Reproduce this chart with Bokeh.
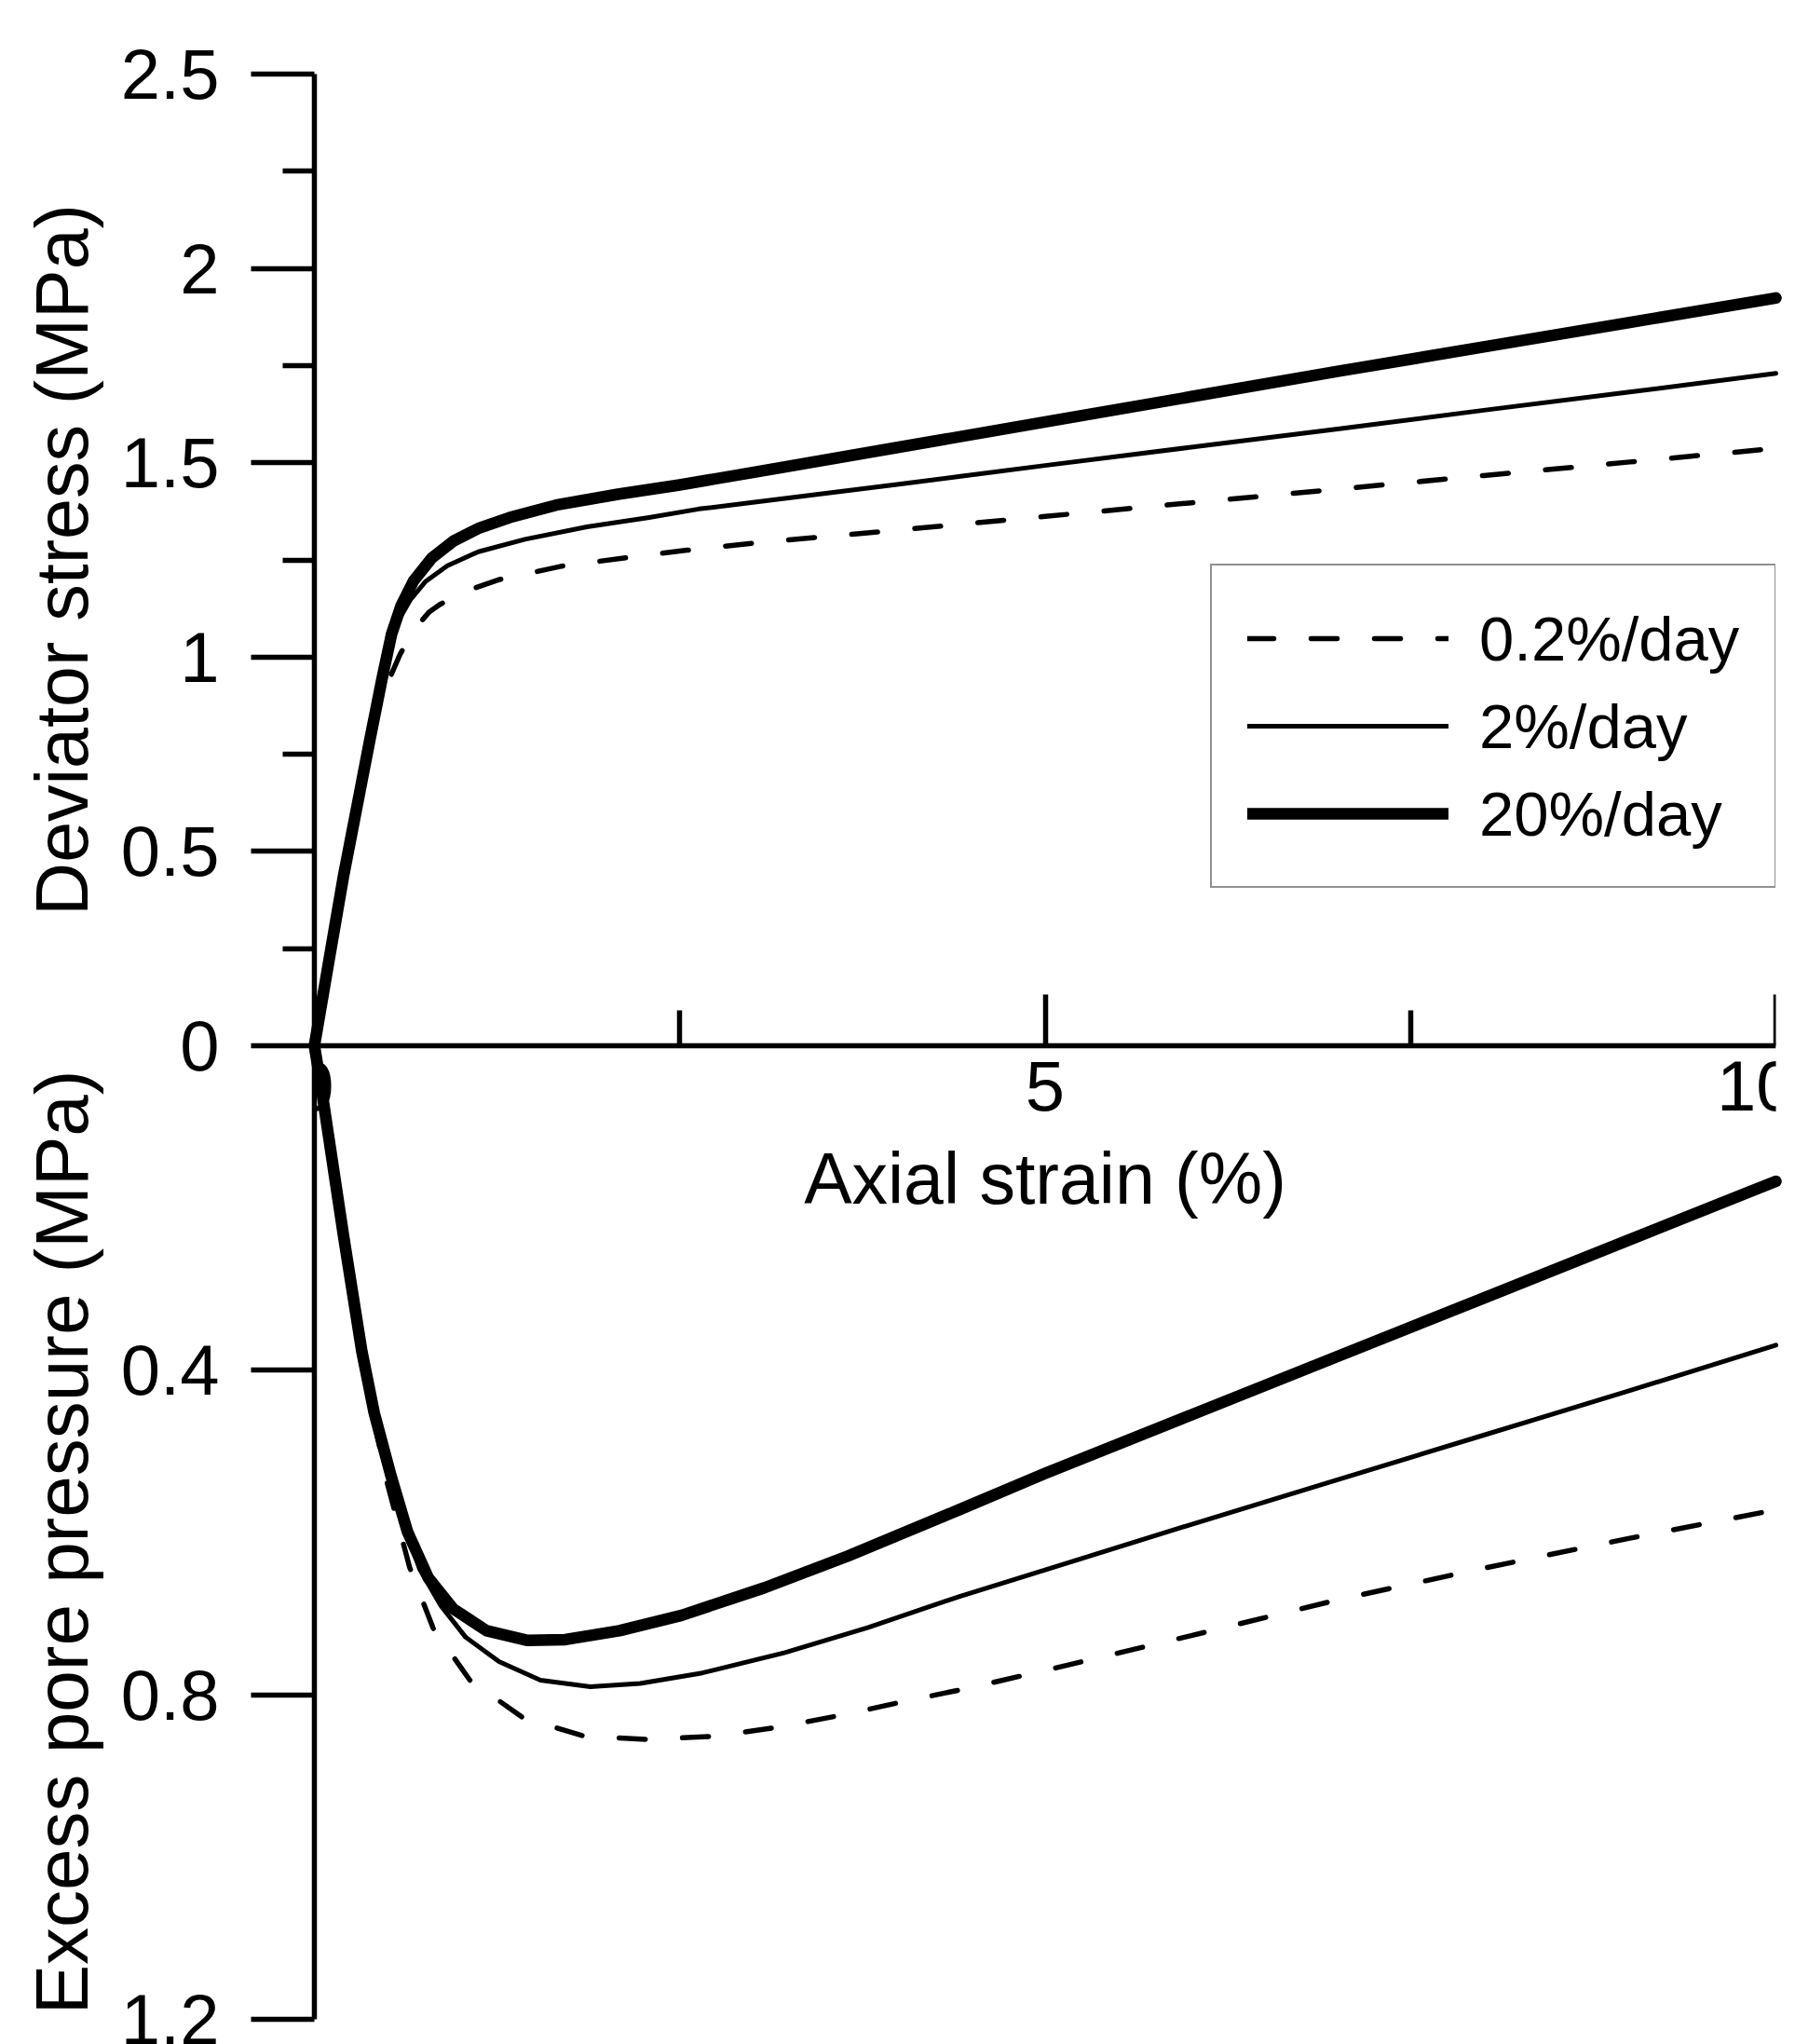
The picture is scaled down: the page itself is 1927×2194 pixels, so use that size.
from math import pi
from bokeh.plotting import figure
from bokeh.layouts import row
from bokeh.models import Range1d, FixedTicker, Legend, LegendItem
from bokeh.core.properties import value
from bokeh.embed import file_html
from bokeh.resources import INLINE

# ---------------- data ----------------
rate_labels = ["0.2%/day", "2%/day", "20%/day"]

# Deviator stress (MPa) vs axial strain (%)
q_strain_02 = [0, 0.1, 0.2, 0.3, 0.444, 0.586, 0.68, 0.783, 0.857, 1.0, 1.26, 1.695, 2.14, 2.55, 3, 4, 5, 6, 7, 8, 9, 10]
q_02 = [0, 0.215, 0.43, 0.64, 0.884, 1.007, 1.07, 1.115, 1.135, 1.165, 1.199, 1.234, 1.256, 1.275, 1.293, 1.327, 1.362, 1.397, 1.432, 1.467, 1.502, 1.537]

q_strain_2 = [0, 0.1, 0.199, 0.306, 0.38, 0.465, 0.528, 0.592, 0.656, 0.762, 0.91, 1.122, 1.441, 1.865, 2.29, 2.63, 3, 4, 5, 6, 7, 8, 9, 10]
q_2 = [0, 0.22, 0.436, 0.644, 0.785, 0.94, 1.04, 1.105, 1.147, 1.195, 1.235, 1.271, 1.303, 1.335, 1.359, 1.381, 1.398, 1.445, 1.493, 1.54, 1.587, 1.635, 1.682, 1.73]

q_strain_20 = [0, 0.1, 0.199, 0.306, 0.38, 0.465, 0.528, 0.592, 0.677, 0.804, 0.953, 1.122, 1.335, 1.653, 2.077, 2.5, 3, 4, 5, 6, 7, 8, 9, 10]
q_20 = [0, 0.22, 0.436, 0.644, 0.788, 0.948, 1.059, 1.131, 1.195, 1.255, 1.299, 1.331, 1.359, 1.391, 1.419, 1.443, 1.475, 1.54, 1.605, 1.67, 1.735, 1.798, 1.861, 1.924]

# Excess pore pressure (MPa) vs axial strain (%)
u_strain_02 = [0, 0.05, 0.1, 0.2, 0.3, 0.4, 0.5, 0.652, 0.813, 1.064, 1.425, 1.845, 2.285, 2.74, 3.17, 3.61, 4.04, 4.47, 5, 6, 7, 8, 9, 10]
u_02 = [0, 0.058, 0.12, 0.242, 0.357, 0.455, 0.54, 0.643, 0.718, 0.782, 0.828, 0.851, 0.855, 0.851, 0.84, 0.825, 0.808, 0.792, 0.77, 0.727, 0.683, 0.644, 0.607, 0.572]

u_strain_2 = [0, 0.05, 0.1, 0.2, 0.325, 0.41, 0.524, 0.637, 0.72, 0.865, 1.035, 1.263, 1.547, 1.888, 2.229, 2.655, 3.22, 3.79, 4.41, 5, 6, 7, 8, 9, 10]
u_2 = [0, 0.055, 0.116, 0.236, 0.378, 0.456, 0.535, 0.602, 0.645, 0.69, 0.729, 0.759, 0.782, 0.79, 0.786, 0.773, 0.748, 0.717, 0.679, 0.646, 0.59, 0.535, 0.48, 0.425, 0.369]

u_strain_20 = [0, 0.05, 0.1, 0.2, 0.325, 0.41, 0.524, 0.637, 0.78, 0.95, 1.178, 1.46, 1.717, 2.087, 2.513, 3.08, 3.65, 4.41, 5, 6, 7, 8, 9, 10]
u_20 = [0, 0.055, 0.115, 0.235, 0.377, 0.453, 0.53, 0.599, 0.656, 0.694, 0.721, 0.733, 0.732, 0.721, 0.702, 0.668, 0.629, 0.572, 0.527, 0.455, 0.383, 0.311, 0.239, 0.167]

x_ticks = [0, 5, 10]
x_minor_ticks = [2.5, 7.5]
q_ticks = [0, 0.5, 1, 1.5, 2, 2.5]
q_tick_labels = ["0", "0.5", "1", "1.5", "2", "2.5"]
q_minor_ticks = [0.25, 0.75, 1.25, 1.75, 2.25]
u_ticks = [0.4, 0.8, 1.2]
u_tick_labels = ["0.4", "0.8", "1.2"]

q_title = "Deviator stress (MPa)"
u_title = "Excess pore pressure (MPa)"

# ---------------- layout constants ----------------
FONT = "Liberation Sans"
K = 870.8 / 417.2          # ratio of pixel scales (pore pressure half vs stress half)
Q_MAX = 2.5
U_MAX = 1.2
TOTAL_W, TOTAL_H = 1927, 2194
TITLE_W = 120              # strip on the left holding the two y titles
BORDER_TOP, BORDER_BOTTOM = 79, 27


def y_main():
    return Range1d(-U_MAX * K - 1e-6, Q_MAX)


def y_pp():
    return Range1d(start=U_MAX + 1e-6 / K, end=-Q_MAX / K)


# ---------------- main plot ----------------
p = figure(width=TOTAL_W - TITLE_W, height=TOTAL_H, output_backend="svg", toolbar_location=None,
           x_range=Range1d(0, 10), y_range=y_main(),
           min_border_left=337 - TITLE_W, min_border_right=21,
           min_border_top=BORDER_TOP, min_border_bottom=BORDER_BOTTOM)
p.extra_y_ranges = {"pp": y_pp()}
p.background_fill_color = "white"
p.border_fill_color = "white"
p.outline_line_color = None
p.xgrid.visible = False
p.ygrid.visible = False

# x axis drawn across the middle at zero
xa = p.xaxis[0]
xa.fixed_location = 0
xa.ticker = FixedTicker(ticks=x_ticks, minor_ticks=x_minor_ticks)
xa.axis_line_width = 5.5
xa.major_tick_line_width = 5.5
xa.minor_tick_line_width = 5.5
xa.major_tick_in = 55
xa.major_tick_out = 0
xa.minor_tick_in = 38
xa.minor_tick_out = 0
xa.major_label_text_font = FONT
xa.major_label_text_font_size = "76px"
xa.major_label_text_color = "black"
xa.major_label_standoff = 16
xa.axis_label = "Axial strain (%)"
xa.axis_label_text_font = FONT
xa.axis_label_text_font_size = "77px"
xa.axis_label_text_font_style = "normal"
xa.axis_label_text_color = "black"
xa.axis_label_standoff = 27

# y axis: stress in the upper half, pore pressure (downward) in the lower half
tick_pos = [float(v) for v in q_ticks] + [round(-v * K, 6) for v in u_ticks]
overrides = {}
for v, lab in zip(q_ticks, q_tick_labels):
    overrides[float(v)] = lab
for v, lab in zip(u_ticks, u_tick_labels):
    overrides[round(-v * K, 6)] = lab

ya = p.yaxis[0]
ya.ticker = FixedTicker(ticks=tick_pos, minor_ticks=q_minor_ticks)
ya.major_label_overrides = overrides
ya.axis_line_width = 5.5
ya.major_tick_line_width = 5.5
ya.minor_tick_line_width = 5.5
ya.major_tick_out = 68
ya.major_tick_in = 0
ya.minor_tick_out = 34
ya.minor_tick_in = 0
ya.major_label_text_font = FONT
ya.major_label_text_font_size = "76px"
ya.major_label_text_color = "black"
ya.major_label_standoff = 34

# ---------------- curves ----------------
styles = [
    dict(line_width=5.5, line_dash="28 40", line_cap="round"),
    dict(line_width=5, line_join="round", line_cap="round"),
    dict(line_width=12.5, line_join="round", line_cap="round"),
]
q_series = [(q_strain_02, q_02), (q_strain_2, q_2), (q_strain_20, q_20)]
u_series = [(u_strain_02, u_02), (u_strain_2, u_2), (u_strain_20, u_20)]

top_renderers = []
for (xs, ys), st in zip(q_series, styles):
    r = p.line(xs, ys, line_color="black", level="overlay", **st)
    top_renderers.append(r)
for (xs, ys), st in zip(u_series, styles):
    p.line(xs, ys, line_color="black", y_range_name="pp", level="overlay", **st)

# ---------------- legend ----------------
legend = Legend(
    items=[LegendItem(label=lab, renderers=[r]) for lab, r in zip(rate_labels, top_renderers)],
    location=(962, 1214),
    orientation="vertical",
    glyph_width=216, glyph_height=80,
    label_standoff=33, padding=38, spacing=14, margin=0,
    label_text_font=FONT, label_text_font_size="67px", label_text_color="black",
    border_line_color="#222222", border_line_width=2.5,
    background_fill_color="white", background_fill_alpha=1.0,
)
p.add_layout(legend)

# ---------------- strip with the two y titles ----------------
t = figure(width=TITLE_W, height=TOTAL_H, output_backend="svg", toolbar_location=None,
           x_range=Range1d(0, TITLE_W), y_range=y_main(),
           x_axis_location=None, y_axis_location=None,
           min_border_left=0, min_border_right=0,
           min_border_top=BORDER_TOP, min_border_bottom=BORDER_BOTTOM)
t.extra_y_ranges = {"pp": y_pp()}
t.outline_line_color = None
t.xgrid.visible = False
t.ygrid.visible = False
t.background_fill_color = "white"
t.border_fill_color = "white"

title_style = dict(angle=pi / 2, text_align="center", text_baseline="alphabetic",
                   text_font=value(FONT), text_color="black")
t.text(x=[66], y=[1.25], text=[q_title], text_font_size=value("79px"), **title_style)
t.text(x=[66], y=[0.612], text=[u_title], y_range_name="pp", text_font_size=value("80px"), **title_style)

layout = row(t, p, spacing=0)
open("out.html", "w").write(file_html(layout, INLINE))
